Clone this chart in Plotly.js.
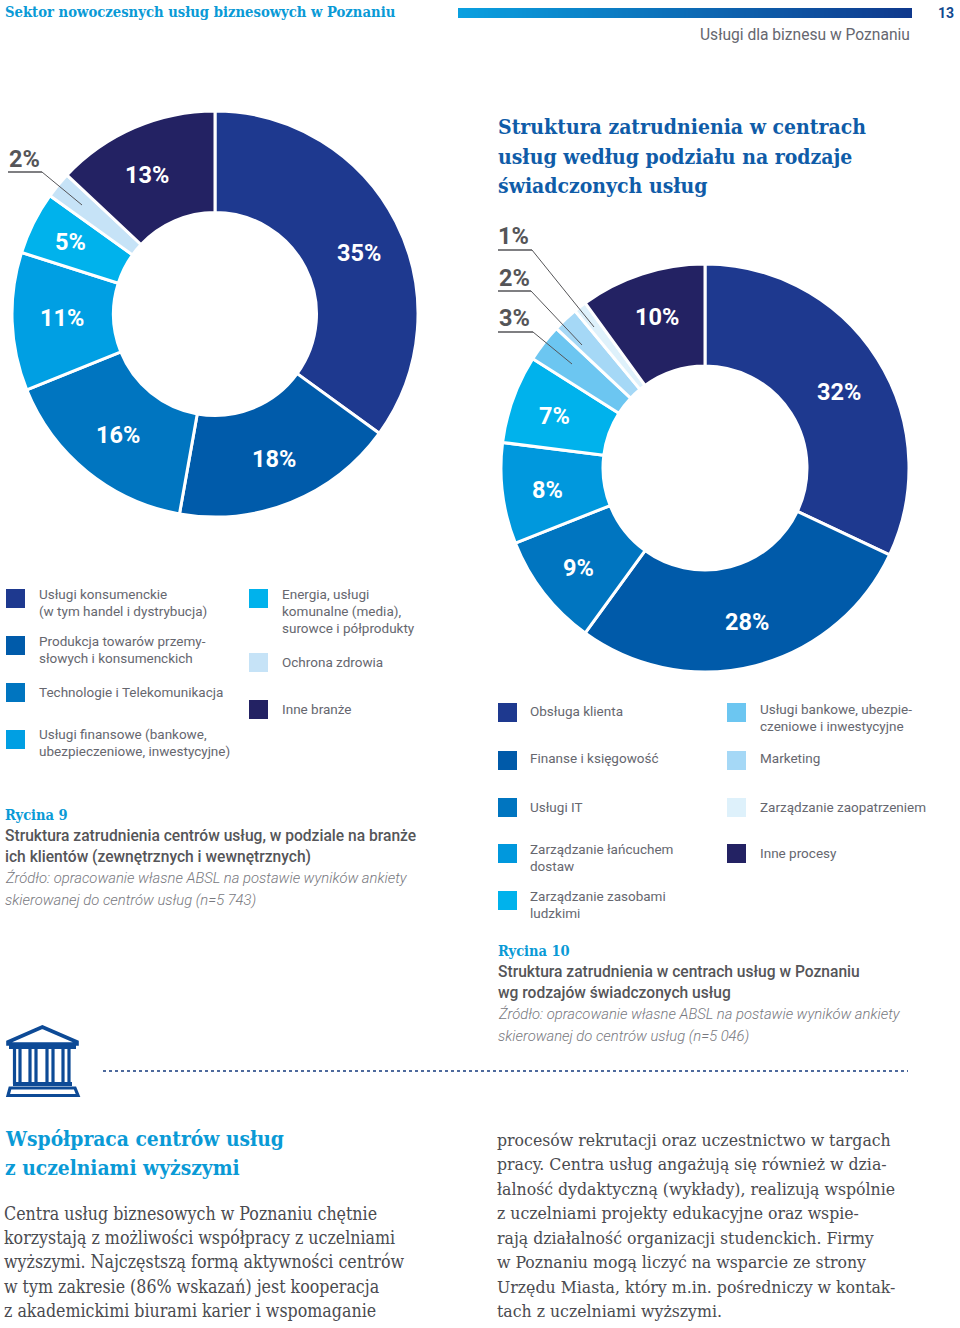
<!DOCTYPE html>
<html lang="pl"><head><meta charset="utf-8">
<script src="https://cdn.plot.ly/plotly-3.0.1.min.js"></script>
<style>html,body{margin:0;padding:0;background:#fff}#c{width:960px;height:1328px}</style></head>
<body><div id="c"></div>
<script>
// ---- data ----
const industries = ['Usługi konsumenckie (w tym handel i dystrybucja)','Produkcja towarów przemysłowych i konsumenckich','Technologie i Telekomunikacja','Usługi finansowe (bankowe, ubezpieczeniowe, inwestycyjne)','Energia, usługi komunalne (media), surowce i półprodukty','Ochrona zdrowia','Inne branże'];
const industryValues = [35,17.8,16.1,11,5,2.1,13];
const industryColors = ['#1e398f','#005baa','#0075c0','#009fe3','#00b2ec','#c6e3f7','#232263'];
const processes = ['Obsługa klienta','Finanse i księgowość','Usługi IT','Zarządzanie łańcuchem dostaw','Zarządzanie zasobami ludzkimi','Usługi bankowe, ubezpieczeniowe i inwestycyjne','Marketing','Zarządzanie zaopatrzeniem','Inne procesy'];
const processValues = [32,28,9,8,7,3,2,1,10];
const processColors = ['#1e398f','#005aa9','#0075c0','#0098dd','#00b2ec','#6cc6f1','#a5d8f6','#def1fb','#232263'];

const W=960,H=1328;
const SANS='Roboto, sans-serif', SLAB='"DejaVu Serif Condensed","DejaVu Serif",serif';
const GREY='#66676f', BLUE='#0a9ad6', DARK='#555558';
const px=x=>x/W, py=y=>1-y/H;
const ann=[], shp=[];
function T(x,y,text,o={}){const a=o.anchor||'left';ann.push({xref:'paper',yref:'paper',x:px(a==='left'?x-1:x),y:py(y),text,showarrow:false,
  xanchor:a,yanchor:'middle',align:'left',borderpad:0,
  font:{family:o.family||SANS,size:o.size||14,color:o.color||GREY,weight:o.weight||400,style:o.style||'normal'}});}
function R(x0,y0,x1,y1,fill){shp.push({type:'rect',xref:'paper',yref:'paper',x0:px(x0),x1:px(x1),y0:py(y0),y1:py(y1),fillcolor:fill,line:{width:0}});}
function L(x0,y0,x1,y1,color,width,dash){shp.push({type:'line',xref:'paper',yref:'paper',x0:px(x0),x1:px(x1),y0:py(y0),y1:py(y1),line:{color,width,dash:dash||'solid'}});}
function P(pts,color,width,fill){const d=pts.map((p,i)=>(i?'L':'M')+px(p[0])+','+py(p[1])).join(' ')+' Z';
  shp.push({type:'path',xref:'paper',yref:'paper',path:d,fillcolor:fill||'rgba(0,0,0,0)',line:{color,width}});}

// header
T(5,11.5,'Sektor nowoczesnych usług biznesowych w Poznaniu',{family:SLAB,size:14.7,color:BLUE,weight:700});
const c0=[10,160,224],c1=[15,56,140];
for(let x=458;x<912;x+=2){const t=(x-458)/454;R(x,8,x+2,18,'rgb('+c0.map((c,i)=>Math.round(c+(c1[i]-c)*t)).join(',')+')');}
T(946,13,'13',{anchor:'center',size:14,weight:700,color:'#12498f'});
T(911,35,'Usługi dla biznesu w Poznaniu',{anchor:'right',size:15.6,color:GREY});

// title
['Struktura zatrudnienia w centrach','usług według podziału na rodzaje','świadczonych usług'].forEach((s,i)=>T(498,[127,156,186][i],s,{family:SLAB,size:21,color:'#0f5ca8',weight:700}));

// value labels
const lblL=[[359,253],[274,459],[118,435],[62,318],[70,242],[24,159],[147,175]];
const lblR=[[839,392],[747,622],[578,568],[547,490],[554,416],[514,318],[514,278],[513,236],[657,317]];
function vals(v,pos,dark){v.forEach((n,i)=>T(pos[i][0],pos[i][1],Math.round(n)+'%',{anchor:'center',size:23.5,weight:700,color:dark.includes(i)?DARK:'#ffffff'}));}
vals(industryValues,lblL,[5]);
vals(processValues,lblR,[5,6,7]);

// leaders
[[8,172,42,172,82,205],[498,250,532,250,594,327],[498,291,531,291,582,345],[498,332,533,332,572,364]].forEach(a=>{
  L(a[0],a[1],a[2],a[3],DARK,1.5);L(a[2],a[3],a[4],a[5],DARK,1);});

// legends
const legL=[[6,589,0,39,[[595,'Usługi konsumenckie'],[612,'(w tym handel i dystrybucja)']]],
 [6,636,1,39,[[642,'Produkcja towarów przemy-'],[659,'słowych i konsumenckich']]],
 [6,683,2,39,[[693,'Technologie i Telekomunikacja']]],
 [6,730,3,39,[[735,'Usługi finansowe (bankowe,'],[752,'ubezpieczeniowe, inwestycyjne)']]],
 [249,589,4,282,[[595,'Energia, usługi'],[612,'komunalne (media),'],[629,'surowce i półprodukty']]],
 [249,653,5,282,[[663,'Ochrona zdrowia']]],
 [249,700,6,282,[[710,'Inne branże']]]];
const legR=[[498,703,0,530,[[712,'Obsługa klienta']]],
 [498,751,1,530,[[759,'Finanse i księgowość']]],
 [498,798,2,530,[[808,'Usługi IT']]],
 [498,844,3,530,[[850,'Zarządzanie łańcuchem'],[867,'dostaw']]],
 [498,891,4,530,[[897,'Zarządzanie zasobami'],[914,'ludzkimi']]],
 [727,703,5,760,[[710,'Usługi bankowe, ubezpie-'],[727,'czeniowe i inwestycyjne']]],
 [727,751,6,760,[[759,'Marketing']]],
 [727,798,7,760,[[808,'Zarządzanie zaopatrzeniem']]],
 [727,844,8,760,[[854,'Inne procesy']]]];
function legend(items,colors){items.forEach(a=>{R(a[0],a[1],a[0]+19,a[1]+19,colors[a[2]]);a[4].forEach(l=>T(a[3],l[0]-0.6,l[1],{size:13.5}));});}
legend(legL,industryColors);legend(legR,processColors);

// captions
function caption(x,ys,head,b1,b2,i1,i2){
  T(x,ys[0]-0.5,head,{family:SLAB,size:14.5,color:BLUE,weight:700});
  T(x,ys[1],b1,{size:15.6,weight:500,color:DARK});T(x,ys[2],b2,{size:15.6,weight:500,color:DARK});
  T(x,ys[3],i1,{size:14.8,style:'italic',weight:300,color:'#77787e'});T(x,ys[4],i2,{size:14.8,style:'italic',weight:300,color:'#77787e'});}
caption(5,[815,836,857,878,900],'Rycina 9','Struktura zatrudnienia centrów usług, w podziale na branże','ich klientów (zewnętrznych i wewnętrznych)','Źródło: opracowanie własne ABSL na postawie wyników ankiety','skierowanej do centrów usług (n=5 743)');
caption(498,[951,972,993,1014,1036],'Rycina 10','Struktura zatrudnienia w centrach usług w Poznaniu','wg rodzajów świadczonych usług','Źródło: opracowanie własne ABSL na postawie wyników ankiety','skierowanej do centrów usług (n=5 046)');

// icon
const IC='#0d4a96';
P([[42.3,1027],[77,1042],[77,1044],[8,1044],[8,1042]],IC,3.6);
R(9,1043,76,1049,IC);
[14.5,20,30,36,47,53,63,69].forEach(x=>L(x,1049,x,1084,IC,3.2));
R(13,1082,72,1086,IC);
P([[10,1088],[75,1088],[78,1095.5],[8,1095.5]],IC,3.2);

L(103,1071,908,1071,'#153a7e',1.6,'dot');

// article
T(5,1138.5,'Współpraca centrów usług',{family:SLAB,size:20.8,color:BLUE,weight:700});
T(5,1167.5,'z uczelniami wyższymi',{family:SLAB,size:20.8,color:BLUE,weight:700});
const artL=['Centra usług biznesowych w Poznaniu chętnie','korzystają z możliwości współpracy z uczelniami','wyższymi. Najczęstszą formą aktywności centrów','w tym zakresie (86% wskazań) jest kooperacja','z akademickimi biurami karier i wspomaganie'];
const artR=['procesów rekrutacji oraz uczestnictwo w targach','pracy. Centra usług angażują się również w dzia-','łalność dydaktyczną (wykłady), realizują wspólnie','z uczelniami projekty edukacyjne oraz wspie-','rają działalność organizacji studenckich. Firmy','w Poznaniu mogą liczyć na wsparcie ze strony','Urzędu Miasta, który m.in. pośredniczy w kontak-','tach z uczelniami wyższymi.'];
artL.forEach((s,i)=>T(4,[1214,1238,1262,1287,1311][i],s,{family:SLAB,size:17.65,color:'#4a4b50'}));
artR.forEach((s,i)=>T(497,[1140,1164,1189,1213,1238,1262,1287,1311][i],s,{family:SLAB,size:17.5,color:'#4a4b50'}));

function donut(labels,values,colors,cx,cy,r){return {type:'pie',labels,values,sort:false,direction:'clockwise',rotation:0,hole:0.5,
  textinfo:'none',showlegend:false,hoverinfo:'label+value',
  marker:{colors,line:{color:'#ffffff',width:3}},
  domain:{x:[px(cx-r),px(cx+r)],y:[py(cy+r),py(cy-r)]}};}
const traces=[donut(industries,industryValues,industryColors,215,314,203),donut(processes,processValues,processColors,705,468,204)];
Plotly.newPlot('c',traces,{width:W,height:H,margin:{l:0,r:0,t:0,b:0},paper_bgcolor:'#fff',showlegend:false,annotations:ann,shapes:shp},{displayModeBar:false,staticPlot:true});
</script></body></html>
